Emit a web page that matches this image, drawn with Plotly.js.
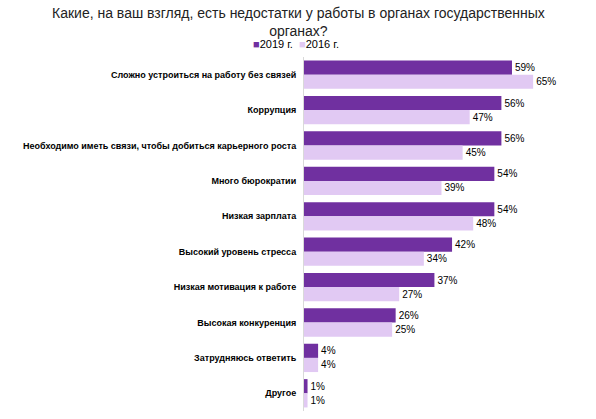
<!DOCTYPE html>
<html><head><meta charset="utf-8">
<script src="https://cdn.plot.ly/plotly-3.0.1.min.js"></script>
<style>body{margin:0;padding:0;background:#fff}#chart{width:596px;height:419px}</style>
</head><body><div id="chart"></div>
<script>
const categories = [
  "Сложно устроиться на работу без связей",
  "Коррупция",
  "Необходимо иметь связи, чтобы добиться карьерного роста",
  "Много бюрократии",
  "Низкая зарплата",
  "Высокий уровень стресса",
  "Низкая мотивация к работе",
  "Высокая конкуренция",
  "Затрудняюсь ответить",
  "Другое"
];
const values2019 = [59, 56, 56, 54, 54, 42, 37, 26, 4, 1];
const values2016 = [65, 47, 45, 39, 48, 34, 27, 25, 4, 1];
const seriesNames = ["2019 г.", "2016 г."];
const seriesColors = ['#7030A0', '#E1C9F3'];
const titleText = "Какие, на ваш взгляд, есть недостатки у работы в органах государственных<br>органах?";

const FONT = "'Liberation Sans', Arial, sans-serif";
const traces = [
  {type:'bar', orientation:'h', name:seriesNames[0], y:categories, x:values2019,
   marker:{color:seriesColors[0]}, text:values2019.map(v=>v+'%'), textposition:'outside',
   textfont:{family:FONT,size:10,color:'#000'}, cliponaxis:false, showlegend:false},
  {type:'bar', orientation:'h', name:seriesNames[1], y:categories, x:values2016,
   marker:{color:seriesColors[1]}, text:values2016.map(v=>v+'%'), textposition:'outside',
   textfont:{family:FONT,size:10,color:'#000'}, cliponaxis:false, showlegend:false}
];
const legendText = seriesNames.map((n,i)=>"<span style='color:"+seriesColors[i]+"'>■</span>"+n).join("  ");
const layout = {
  width:596, height:419,
  margin:{l:304, r:10, t:57, b:8},
  paper_bgcolor:'#fff', plot_bgcolor:'#fff',
  font:{family:FONT, color:'#000'},
  barmode:'group', bargap:0.2, bargroupgap:0,
  showlegend:false,
  annotations:[
    {text:titleText, xref:'paper', yref:'paper', x:-0.021, y:1.098, xanchor:'center', yanchor:'middle',
     showarrow:false, font:{family:FONT, size:14, color:'#222'}},
    {text:legendText, xref:'paper', yref:'paper', x:-0.03, y:1.038, xanchor:'center', yanchor:'middle',
     showarrow:false, font:{family:FONT, size:11, color:'#000'}}
  ],
  xaxis:{range:[0,80], showgrid:false, zeroline:false, showticklabels:false, showline:false, ticks:''},
  yaxis:{autorange:'reversed', showgrid:false, zeroline:false, showline:true, linecolor:'#d9d9d9', linewidth:1,
         ticks:'', ticksuffix:'  ', tickfont:{family:FONT, size:9, color:'#000', weight:'bold'}}
};
Plotly.newPlot('chart', traces, layout, {displayModeBar:false, staticPlot:true});
</script></body></html>
